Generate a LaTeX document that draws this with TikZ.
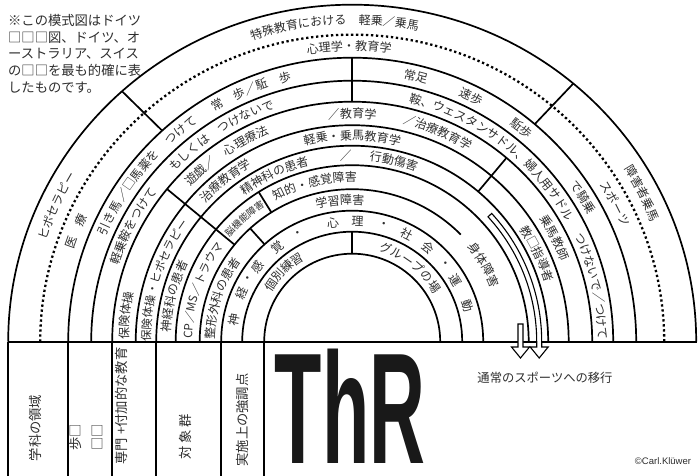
\documentclass[tikz,border=0pt]{standalone}
\usepackage{fontspec}
\setmainfont{Noto Sans CJK JP}
\newfontfamily\latinsans{Liberation Sans}
\usetikzlibrary{decorations.text}
\colorlet{ink}{black!82}
\tikzset{
  ring/.style={line width=1.7pt},
  divider/.style={line width=1.7pt},
  dotring/.style={line width=2.3pt, dash pattern=on 2.3pt off 2.7pt},
  hollow/.style={line width=1.1pt, fill=white, line join=miter},
  rlbl/.style={inner sep=0pt, text=ink, font=\fontsize{12}{12}\selectfont},
  tlbl/.style={inner sep=0pt, rotate=90, text=ink, font=\fontsize{13.3}{22}\selectfont},
}
% curved text: [size]{centre angle}{baseline radius}{text}
\newcommand\ctext[4][12]{%
  \path[decorate,decoration={text along path,text align=center,
    text={|\fontsize{#1}{#1}\selectfont\color{ink}|#4}}]
    ({#2+75}:#3) arc[start angle={#2+75},end angle={#2-75},radius=#3];}
\begin{document}
\begin{tikzpicture}[x=1pt,y=1pt]
\useasboundingbox (0,0) rectangle (699,475);
\fill[white] (0,0) rectangle (699,475);
\begin{scope}[shift={(352.2,133.3)}]
  % rings
  \foreach \r in {88,110,131,176.5,196,216.5,240,261,284}
    \draw[ring] (180:\r) arc[start angle=180,end angle=0,radius=\r];
  \draw[ring] (180:152.5) arc[start angle=180,end angle=44.6,radius=152.5];
  \draw[dotring] (-312,0) arc[start angle=180,end angle=0,x radius=312,y radius=307];
  \draw[ring] (-344,0) arc[start angle=180,end angle=0,x radius=344,y radius=337];
  % baseline and table
  \draw[ring] (-344,0) -- (345,0);
  \foreach \x in {-344,-284,-240,-196,-131,-88}
    \draw[ring] (\x,0) -- (\x,-134);
  % dividers
  \coordinate (oL) at ({344*cos(132)},{337*sin(132)});
  \coordinate (oR) at ({344*cos(50)},{337*sin(50)});
  \draw[divider] (132:284) -- (oL);
  \draw[divider] (50:284) -- (oR);
  \draw[divider] (90:240) -- (90:284);
  \draw[divider] (140.5:152.5) -- (140.5:240);
  \draw[divider] (132:131) -- (132:152.5);
  \draw[divider] (122:152.5) -- (122:176.5);
  \draw[divider] (90:88) -- (90:110);
  \draw[divider] (50:196) -- (50:240);
  % hollow arrows
  \draw[hollow] (42.6:189.5) arc[start angle=42.6,end angle=0,radius=189.5]
    -- (189.5,-5.3) -- (196,-5.3) -- (187,-16.3) -- (178,-5.3) -- (184.5,-5.3)
    -- (184.5,0) arc[start angle=0,end angle=42.6,radius=184.5] -- cycle;
  \draw[hollow] (165.8,17.7) -- (165.8,-5.3) -- (159.3,-5.3) -- (168.3,-16.3)
    -- (177.3,-5.3) -- (170.8,-5.3) -- (170.8,17.7) -- cycle;
  % ring texts
  \ctext{93.2}{317.5}{特殊教育における　軽乗／乗馬}
  \ctext{155.3}{322}{ヒポセラピー}
  \ctext{27.1}{322}{障害者乗馬}
  \ctext{90.6}{291}{心理学・教育学}
  \ctext{158.2}{293}{医　療}
  \ctext{27.7}{293}{スポーツ}
  \ctext{153}{268}{引き馬}
  \ctext{142.2}{268}{／□馬薬を}
  \ctext{129}{268}{つけて}
  \ctext{112}{268}{常　歩／駈　歩}
  \ctext{76.5}{268}{常足}
  \ctext{64}{268}{速歩}
  \ctext{51.6}{268}{駈歩}
  \ctext{32.1}{268}{で騎乗}
  \ctext{152.2}{246}{軽乗鞍をつけて}
  \ctext{122.3}{246}{もしくは　つけないで}
  \ctext{53}{246}{鞍、ウェスタンサドル、婦人用サドル}
  \ctext{13}{246}{つけないで／つけて}
  \ctext{173.4}{223.8}{保険体操}
  \ctext{124}{223.8}{遊戯／　心理療法}
  \ctext{90}{223.8}{／教育学}
  \ctext{67.8}{223.8}{／治療教育学}
  \ctext{27.2}{223.8}{乗馬教師}
  \ctext[11.5]{162}{201.8}{保険体操・ヒポセラピー}
  \ctext{128.2}{201.8}{治療教育学}
  \ctext{90}{201.8}{軽乗・乗馬教育学}
  \ctext{25.4}{201.8}{教□指導者}
  \ctext{165.7}{181.8}{神経科の患者}
  \ctext{115}{181.8}{精神科の患者}
  \ctext{92}{181.8}{／}
  \ctext{77}{181.8}{行動傷害}
  \ctext[11.5]{161}{160}{CP／MS／トラウマ}
  \ctext[9.5]{131.2}{161}{脳機能障害}
  \ctext{103.4}{160}{知的・感覚障害}
  \ctext{30.2}{149}{身体障害}
  \ctext{161.6}{137.3}{整形外科の患者}
  \ctext{95}{137.3}{学習障害}
  \foreach \a/\c in {169.7/神,156/経,148.5/・,141.9/感,128.3/覚,116.6/・,99.3/心,87.4/理,75/・,63/社,51.1/会,39.8/・,30.7/運,17.5/動}
    \node[rlbl, rotate=\a-90] at (\a:120.5) {\c};
  \ctext{134.4}{94.6}{個別練習}
  \ctext{52}{94.6}{グループの場}
\end{scope}
% table labels
\node[tlbl] (t1) at (35,47) {学科の領域};
\node[tlbl, align=left] (t2) at (86,37.5) {歩□\\□□};
\node[tlbl] (t3) at (121,69) {専門 +付加的な教育};
\node[tlbl] (t4) at (185,38) {対 象 群};
\node[tlbl] (t5) at (242,55) {実施上の強調点};
\node[inner sep=0pt, text=black!90] (thr) at (350,68.5) {\scalebox{0.49}[1]{\latinsans\bfseries\fontsize{158}{160}\selectfont ThR}};
\node[inner sep=0pt, text=ink, font=\fontsize{12.3}{14}\selectfont] (tr) at (545,97.5) {通常のスポーツへの移行};
\node[inner sep=0pt, text=ink, font=\latinsans\fontsize{9.5}{11}\selectfont] (cp) at (663,14) {©Carl.Klüwer};
% note
\node[anchor=north west, align=left, inner sep=0pt, text=ink, font=\fontsize{13.3}{16.7}\selectfont] (note) at (8,461)
  {※この模式図はドイツ\\□□□図、ドイツ、オ\\ーストラリア、スイス\\の□□を最も的確に表\\したものです。};
\end{tikzpicture}
\end{document}
